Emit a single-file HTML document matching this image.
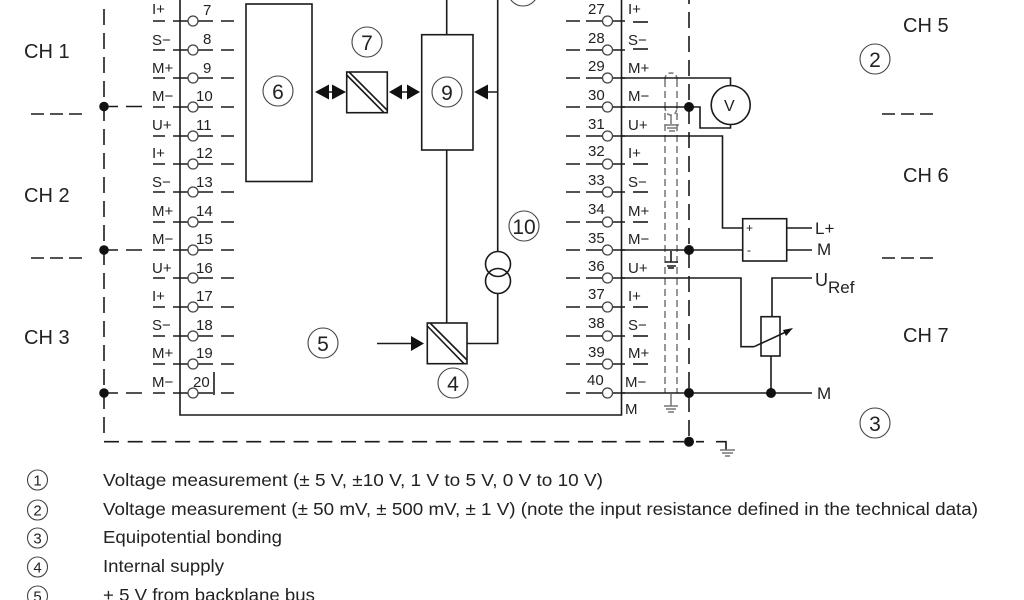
<!DOCTYPE html>
<html><head><meta charset="utf-8"><style>
html,body{margin:0;padding:0;background:#fff}
svg{display:block;filter:blur(.35px)}
text{font-family:"Liberation Sans",sans-serif;fill:#222}
.p{font-size:15px}.c{font-size:20px}.l{font-size:17.5px}.n{font-size:21px;text-anchor:middle}.m{font-size:15px;text-anchor:middle}
.s{fill:none;stroke:#1a1a1a;stroke-width:1.6}
.g{fill:none;stroke:#777;stroke-width:1.5}
.o{fill:#fff;stroke:#444;stroke-width:1.3}
.q{fill:none;stroke:#444;stroke-width:1.1}
</style></head><body>
<svg width="1024" height="600" viewBox="0 0 1024 600" xmlns="http://www.w3.org/2000/svg">
<defs>
<g id="L"><path class="s" d="M153 0H165M173 0H188M198 0H213M221 0H234"/><circle class="o" cx="193" cy="0" r="5"/></g>
<g id="R"><path class="s" d="M566 0H580M586 0H603M613 0H625"/><circle class="o" cx="607.5" cy="0" r="5"/></g>
<path id="U" class="s" d="M633 0H648"/>
</defs>

<!-- dashed lines -->
<path class="s" stroke-dasharray="16 8" d="M104 9V441"/>
<path class="s" stroke-dasharray="15 8.7" d="M104 441.7H684"/>
<path class="s" stroke-dasharray="16 8" d="M689 -12V441"/>
<path class="s" stroke-dasharray="13 6" d="M31 114H86M31 258H86M882 114H938M882 258H938"/>
<path class="s" d="M104 106.5H118M126 106.5H142M104 250H118M126 250H142M104 393H118M126 393H142M696 441.7H704M716 441.7H726V450"/>

<!-- shield -->
<path class="g" stroke-dasharray="7 4" d="M665 80V393M677 80V393"/>
<path class="g" stroke-dasharray="5 3" d="M665 80Q665 73 671 73Q677 73 677 80M665 106Q665 115 671 115Q677 115 677 106"/>

<!-- pins -->
<use href="#L" y="21"/><use href="#L" y="50"/><use href="#L" y="78"/><use href="#L" y="107"/><use href="#L" y="136"/><use href="#L" y="164"/><use href="#L" y="192"/><use href="#L" y="222"/><use href="#L" y="250"/><use href="#L" y="278"/><use href="#L" y="307"/><use href="#L" y="336"/><use href="#L" y="364"/><use href="#L" y="393"/>
<use href="#R" y="21"/><use href="#R" y="50"/><use href="#R" y="78"/><use href="#R" y="107"/><use href="#R" y="136"/><use href="#R" y="164"/><use href="#R" y="192"/><use href="#R" y="222"/><use href="#R" y="250"/><use href="#R" y="278"/><use href="#R" y="307"/><use href="#R" y="336"/><use href="#R" y="364"/><use href="#R" y="393"/>
<use href="#U" y="22"/><use href="#U" y="49"/><use href="#U" y="164"/><use href="#U" y="192"/><use href="#U" y="222"/><use href="#U" y="307"/><use href="#U" y="336"/><use href="#U" y="364"/>

<!-- module frame -->
<path class="s" d="M180 0V415H621.5V0"/>
<path class="s" d="M214 372V395"/>

<!-- center -->
<rect class="s" x="246" y="4" width="66" height="177.5"/>
<rect class="s" x="346.7" y="72" width="40.6" height="40.7"/>
<path class="s" stroke-width="1.2" d="M349 72L387 110M346.7 75L384 112.7"/>
<rect class="s" x="421.7" y="34.7" width="51.3" height="115.3"/>
<path class="s" d="M446.7 0V34.7M446.7 150V323M497.7 0V251.7M488 92H497.7M497.7 293V343.5H467M377 343.5H412M402 92H407M329 92H332"/>
<path fill="#111" d="M315 92L329 84.5V99.5ZM346 92L332 84.5V99.5ZM389 92L402 84.5V99.5ZM420 92L407 84.5V99.5ZM474 92L488 84.5V99.5ZM424 343.5L411 336V351Z"/>
<circle class="s" cx="498" cy="264" r="12.5"/><circle class="s" cx="498" cy="281" r="12.5"/>
<rect class="s" x="427.3" y="323" width="39.7" height="40.7"/>
<path class="s" stroke-width="1.2" d="M430 323L467 360M427.3 326L464 363.7"/>

<!-- right wiring -->
<circle class="s" cx="730.7" cy="105" r="19.5" stroke="#444"/>
<path class="s" d="M621 78H730.5V85.5M621 107H700V128H730.5V124.5M621 136H722.5V228H743M621 250H743M787 228H812M787 250H812M621 278H741V346.7H754M621 393H812M772 317V278H812M771 356V393"/>
<path class="s" stroke-width="1.2" d="M754 346.7L788 331"/><path fill="#111" d="M793 328L783 330L786 336Z"/>
<rect class="s" x="742.7" y="218.7" width="44" height="42.3"/>
<rect class="s" x="761" y="316.7" width="19" height="39.3"/>
<g fill="#111"><circle cx="104" cy="106.5" r="4.8"/><circle cx="104" cy="250" r="4.8"/><circle cx="104" cy="393" r="4.8"/><circle cx="689" cy="107" r="5"/><circle cx="689" cy="250" r="5"/><circle cx="689" cy="393" r="5"/><circle cx="771" cy="393" r="5"/><circle cx="689" cy="441.7" r="5"/></g>

<!-- grounds -->
<path class="g" stroke-width="2" d="M671 115V124M665 125H679M667 128H677M669 131H675"/>
<path class="s" stroke-width="1.9" d="M671 251V262M665 262H678M667 266H676"/><path class="s" stroke-width="2.4" d="M668 268H674"/>
<path class="g" stroke-width="2" d="M671 394V406M664 406H678M666 409H676M668 412H674"/>
<path class="g" stroke-width="2" d="M720 450H735M722 453H733M725 456H730"/>

<!-- labels left -->
<g class="p">
<text x="152" y="14">I+</text><text x="152" y="45">S−</text><text x="152" y="73">M+</text><text x="152" y="101">M−</text><text x="152" y="130">U+</text><text x="152" y="158">I+</text><text x="152" y="187">S−</text><text x="152" y="216">M+</text><text x="152" y="244">M−</text><text x="152" y="273">U+</text><text x="152" y="301">I+</text><text x="152" y="330">S−</text><text x="152" y="358">M+</text><text x="152" y="387">M−</text>
<text x="203" y="15">7</text><text x="203" y="44">8</text><text x="203" y="73">9</text><text x="196" y="101">10</text><text x="196" y="130">11</text><text x="196" y="158">12</text><text x="196" y="187">13</text><text x="196" y="216">14</text><text x="196" y="244">15</text><text x="196" y="273">16</text><text x="196" y="301">17</text><text x="196" y="330">18</text><text x="196" y="358">19</text><text x="193" y="387">20</text>
<text x="588" y="14">27</text><text x="588" y="43">28</text><text x="588" y="71">29</text><text x="588" y="100">30</text><text x="588" y="129">31</text><text x="588" y="156">32</text><text x="588" y="185">33</text><text x="588" y="214">34</text><text x="588" y="243">35</text><text x="588" y="271">36</text><text x="588" y="299">37</text><text x="588" y="328">38</text><text x="588" y="357">39</text><text x="587" y="385">40</text>
<text x="628" y="14">I+</text><text x="628" y="45">S−</text><text x="628" y="73">M+</text><text x="628" y="101">M−</text><text x="628" y="130">U+</text><text x="628" y="158">I+</text><text x="628" y="187">S−</text><text x="628" y="216">M+</text><text x="628" y="244">M−</text><text x="628" y="273">U+</text><text x="628" y="301">I+</text><text x="628" y="330">S−</text><text x="628" y="358">M+</text><text x="625" y="387">M−</text><text x="625" y="414">M</text>
<text x="815" y="234" font-size="17">L+</text><text x="817" y="255" font-size="17">M</text><text x="817" y="399" font-size="17">M</text><text x="815" y="286" font-size="18">U</text><text x="828" y="293" font-size="17">Ref</text>
<text x="746" y="232" font-size="12">+</text><text x="747" y="254" font-size="12">-</text>
<text x="724" y="111" font-size="16">V</text>
</g>

<g class="c">
<text x="24" y="58">CH 1</text><text x="24" y="202">CH 2</text><text x="24" y="344">CH 3</text>
<text x="903" y="32">CH 5</text><text x="903" y="182">CH 6</text><text x="903" y="342">CH 7</text>
</g>

<!-- numbered circles -->
<g class="q"><circle cx="278" cy="91" r="15"/><circle cx="367" cy="42" r="15"/><circle cx="447" cy="92" r="15"/><circle cx="524" cy="226" r="15"/><circle cx="323" cy="343" r="15"/><circle cx="453" cy="383" r="15"/><circle cx="875" cy="423" r="15"/><circle cx="875" cy="59" r="15"/><circle cx="523" cy="-9" r="15"/></g>
<g class="n"><text x="278" y="99">6</text><text x="367" y="50">7</text><text x="447" y="100">9</text><text x="524" y="234">10</text><text x="323" y="351">5</text><text x="453" y="391">4</text><text x="875" y="431">3</text><text x="875" y="67">2</text></g>

<!-- legend -->
<g class="q"><circle cx="37.5" cy="480" r="10"/><circle cx="37.5" cy="510" r="10"/><circle cx="37.5" cy="538" r="10"/><circle cx="37.5" cy="567" r="10"/><circle cx="37.5" cy="596" r="10"/></g>
<g class="m"><text x="37.5" y="485.5">1</text><text x="37.5" y="515.5">2</text><text x="37.5" y="543.5">3</text><text x="37.5" y="572.5">4</text><text x="37.5" y="601.5">5</text></g>
<g class="l">
<text x="103" y="486" textLength="500" lengthAdjust="spacingAndGlyphs">Voltage measurement (± 5 V, ±10 V, 1 V to 5 V, 0 V to 10 V)</text>
<text x="103" y="515" textLength="875" lengthAdjust="spacingAndGlyphs">Voltage measurement (± 50 mV, ± 500 mV, ± 1 V) (note the input resistance defined in the technical data)</text>
<text x="103" y="543" textLength="179" lengthAdjust="spacingAndGlyphs">Equipotential bonding</text>
<text x="103" y="572" textLength="121" lengthAdjust="spacingAndGlyphs">Internal supply</text>
<text x="103" y="601" textLength="212" lengthAdjust="spacingAndGlyphs">+ 5 V from backplane bus</text>
</g>
</svg>
</body></html>
